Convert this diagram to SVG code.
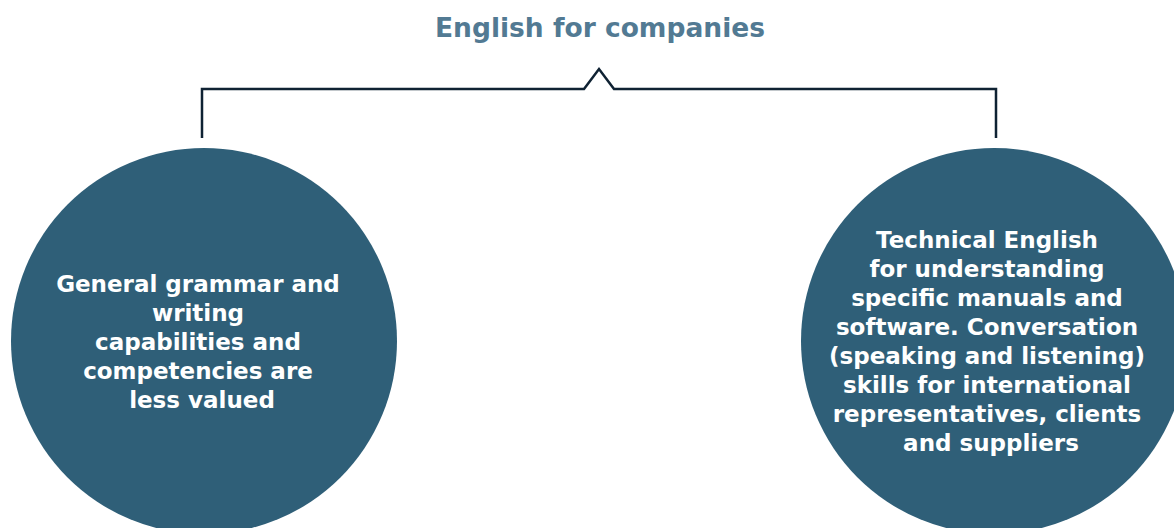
<svg xmlns="http://www.w3.org/2000/svg" width="1174" height="528" viewBox="0 0 1174 528">
  <style>
    .title { font-family: "DejaVu Sans", Verdana, sans-serif; font-weight: bold; font-size: 26.5px; fill: #527a93; }
    .connector { fill: none; stroke: #0f2233; stroke-width: 2.5; stroke-linejoin: miter; }
    .bubble { fill: #2f5f78; }
    .label { font-family: "DejaVu Sans", Verdana, sans-serif; font-weight: bold; font-size: 23px; fill: #ffffff; text-anchor: middle; }
  </style>
  <rect width="1174" height="528" fill="#ffffff"/>

  <g id="title">
    <text class="title" x="600" y="37" text-anchor="middle">English for companies</text>
  </g>

  <g id="connectors">
    <path class="connector" d="M202,138 V89 H584 L599,69 L614,89 H996 V138"/>
  </g>

  <g id="node-general">
    <circle class="bubble" cx="204" cy="341" r="193"/>
    <text class="label">
      <tspan x="202" y="292">General grammar and</tspan>
      <tspan x="202" y="321">writing</tspan>
      <tspan x="202" y="350">capabilities and</tspan>
      <tspan x="202" y="379">competencies are</tspan>
      <tspan x="202" y="408">less valued</tspan>
    </text>
  </g>

  <g id="node-technical">
    <circle class="bubble" cx="994" cy="341" r="193"/>
    <text class="label">
      <tspan x="991" y="248">Technical English</tspan>
      <tspan x="991" y="277">for understanding</tspan>
      <tspan x="991" y="306">specific manuals and</tspan>
      <tspan x="991" y="335">software. Conversation</tspan>
      <tspan x="991" y="364">(speaking and listening)</tspan>
      <tspan x="991" y="393">skills for international</tspan>
      <tspan x="991" y="422">representatives, clients</tspan>
      <tspan x="991" y="451">and suppliers</tspan>
    </text>
  </g>
</svg>
